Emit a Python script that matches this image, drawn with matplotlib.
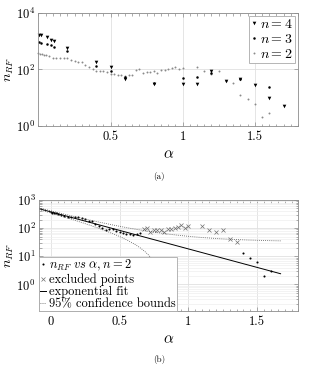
import numpy as np
import matplotlib.pyplot as plt

plt.rcParams['font.family'] = 'serif'
plt.rcParams['font.serif'] = ['cmr10', 'DejaVu Serif']
plt.rcParams['mathtext.fontset'] = 'cm'
plt.rcParams['axes.formatter.use_mathtext'] = True
plt.rcParams['axes.unicode_minus'] = False

# --- panel (a): n_RF against alpha for n = 4, 3, 2
alpha_n4 = [0.005, 0.02, 0.06, 0.09, 0.11, 0.2, 0.4, 0.5, 0.6, 0.8, 1.0, 1.1, 1.2, 1.3, 1.4, 1.5, 1.6, 1.7]
nrf_n4 = [1660, 1600, 1400, 1120, 1020, 590, 185, 120, 47, 30, 30, 30, 85, 38, 45, 29, 10, 5.1]

alpha_n3 = [0.005, 0.02, 0.06, 0.09, 0.11, 0.2, 0.4, 0.5, 0.6, 0.8, 1.0, 1.1, 1.2, 1.4, 1.6]
nrf_n3 = [910, 890, 810, 710, 630, 460, 135, 89, 55, 33, 48, 54, 74, 45, 24]

# n = 2: points kept for the fit and points excluded from it
alpha_n2_in = [0, 0.0125, 0.025, 0.0375, 0.05, 0.075, 0.1, 0.125, 0.15, 0.175, 0.2, 0.225,
               0.25, 0.275, 0.3, 0.325, 0.35, 0.375, 0.4, 0.425, 0.45, 0.475, 0.5, 0.525,
               0.55, 0.575, 0.6, 0.625, 0.65, 1.4, 1.45, 1.5, 1.55, 1.6]
nrf_n2_in = [370, 360, 345, 335, 320, 290, 265, 258, 255, 255, 245, 225,
             205, 180, 178, 140, 120, 105, 88, 92, 90, 80, 72, 68,
             64, 63, 57, 62, 66, 13, 9, 6.2, 2.0, 3.0]

alpha_n2_out = [0.675, 0.7, 0.725, 0.75, 0.775, 0.8, 0.825, 0.85, 0.875, 0.9, 0.925, 0.95,
                0.975, 1.0, 1.1, 1.15, 1.2, 1.25, 1.3, 1.35]
nrf_n2_out = [95, 100, 76, 83, 83, 87, 76, 95, 95, 100, 110, 125,
              100, 115, 120, 87, 72, 87, 40, 32]

# exponential fit n_RF = A exp(B alpha), +/- half width of the 95% bounds
fit_A = 380.0
fit_B = -3.03
bound_halfwidth = 33.0

frame_col = '#8c8c8c'
grid_col = '#e0e0e0'

fig = plt.figure(figsize=(3.18, 3.71), dpi=100)


def style_axes(ax):
    for s in ax.spines.values():
        s.set_color(frame_col)
        s.set_linewidth(0.6)
    ax.tick_params(which='both', direction='in', top=True, right=True,
                   color=frame_col, width=0.5, labelsize=9)
    ax.tick_params(which='major', length=3)
    ax.tick_params(which='minor', length=1.8)
    ax.tick_params(axis='y', pad=2.5)
    ax.set_xticks(np.arange(0, 1.81, 0.05), minor=True)


# ---------- (a)
ax1 = fig.add_axes([0.121, 0.6604, 0.816, 0.3046])
ax1.set_yscale('log')
ax1.plot(alpha_n2_in + alpha_n2_out, nrf_n2_in + nrf_n2_out, ls='none', marker='o',
         ms=1.4, color='#8a8a8a', mec='none', label=r'$n = 2$', clip_on=False)
ax1.plot(alpha_n3, nrf_n3, ls='none', marker='o', ms=1.8, color='black', mec='none',
         label=r'$n = 3$', clip_on=False)
ax1.plot(alpha_n4, nrf_n4, ls='none', marker='v', ms=2.6, color='black', mec='none',
         label=r'$n = 4$', clip_on=False)
ax1.set_xlim(0, 1.79)
ax1.set_ylim(1, 1e4)
ax1.set_xticks([0.5, 1, 1.5], ['0.5', '1', '1.5'])
ax1.set_yticks([1, 1e2, 1e4])
ax1.grid(True, which='major', color=grid_col, lw=0.6)
style_axes(ax1)
ax1.set_xlabel(r'$\alpha$', fontsize=11, labelpad=3)
fig.text(9.5 / 318, 1 - 69 / 371, r'$n_{RF}$', rotation=90, ha='center', va='center',
         fontsize=10)
h, l = ax1.get_legend_handles_labels()
leg1 = ax1.legend(h[::-1], l[::-1], loc='upper right', fontsize=10, handlelength=0.5,
                  handletextpad=0.2, borderpad=0.15, labelspacing=0.15,
                  borderaxespad=0.2, fancybox=False, framealpha=1)
leg1.get_frame().set_edgecolor('#aaaaaa')
leg1.get_frame().set_linewidth(0.6)
fig.text(0.5, 1 - 176 / 371, '(a)', ha='center', va='center', fontsize=6.5)

# ---------- (b)
ax2 = fig.add_axes([0.1226, 0.1604, 0.816, 0.3005])
ax2.set_yscale('log', nonpositive='clip')
xlo, xhi = -0.085, 1.67
a_line = np.linspace(xlo, xhi, 600)
fit_line = fit_A * np.exp(fit_B * a_line)
ax2.plot(alpha_n2_in, nrf_n2_in, ls='none', marker='o', ms=1.5, color='black', mec='none',
         label=r'$n_{RF}\ vs\ \alpha, n = 2$')
ax2.plot(alpha_n2_out, nrf_n2_out, ls='none', marker='x', ms=2.5, mew=0.5, color='#707070',
         label='excluded points')
ax2.plot(a_line, fit_line, color='black', lw=0.7, label='exponential fit')
ax2.plot(a_line, fit_line + bound_halfwidth, color='#555555', lw=0.6, ls=(0, (1, 1.5)),
         label='95% confidence bounds')
ax2.plot(a_line, fit_line - bound_halfwidth, color='#555555', lw=0.6, ls=(0, (1, 1.5)))
ax2.set_xlim(xlo, xhi)
ax2.set_ylim(0.11, 1e3)
ax2.set_xticks([0, 0.5, 1, 1.5], ['0', '0.5', '1', '1.5'])
ax2.set_yticks([1, 10, 100, 1000])
ax2.grid(True, which='major', color=grid_col, lw=0.6)
ax2.grid(True, which='minor', axis='y', color='#efefef', lw=0.5)
style_axes(ax2)
ax2.set_xlabel(r'$\alpha$', fontsize=11, labelpad=3)
fig.text(9.5 / 318, 1 - 255 / 371, r'$n_{RF}$', rotation=90, ha='center', va='center',
         fontsize=10)
leg2 = ax2.legend(loc='lower left', fontsize=9, handlelength=0.5, handletextpad=0.2,
                  borderpad=0.1, labelspacing=0.0, borderaxespad=0.0,
                  fancybox=False, framealpha=1)
leg2.get_frame().set_edgecolor('#aaaaaa')
leg2.get_frame().set_linewidth(0.6)
fig.text(0.5, 1 - 360 / 371, '(b)', ha='center', va='center', fontsize=6.5)

fig.savefig('out.png', dpi=100)
